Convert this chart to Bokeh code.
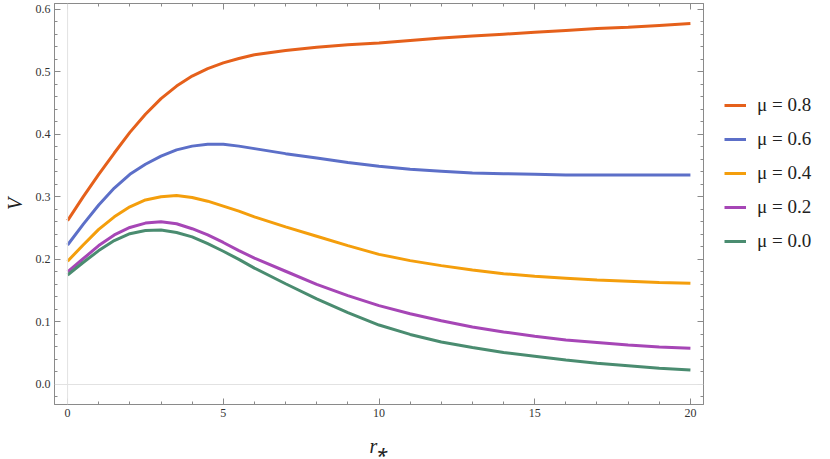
from bokeh.plotting import figure
from bokeh.layouts import row
from bokeh.models import (LinearAxis, FixedTicker, Legend, LegendItem, Span,
                          CustomJSTickFormatter, Range1d)
from bokeh.embed import file_html
from bokeh.resources import INLINE

# ---------------- data ----------------
r_star = [0, 0.5, 1, 1.5, 2, 2.5, 3, 3.5, 4, 4.5, 5, 5.5, 6, 7, 8, 9, 10,
          11, 12, 13, 14, 15, 16, 17, 18, 19, 20]

V_mu08 = [0.262, 0.300, 0.336, 0.370, 0.403, 0.432, 0.457, 0.477, 0.493, 0.505,
          0.514, 0.521, 0.527, 0.534, 0.539, 0.543, 0.546, 0.550, 0.554, 0.557,
          0.560, 0.563, 0.566, 0.569, 0.571, 0.574, 0.577]
V_mu06 = [0.223, 0.256, 0.287, 0.314, 0.336, 0.352, 0.365, 0.375, 0.381, 0.384,
          0.384, 0.381, 0.377, 0.369, 0.362, 0.355, 0.349, 0.344, 0.341, 0.338,
          0.337, 0.336, 0.335, 0.335, 0.335, 0.335, 0.335]
V_mu04 = [0.197, 0.223, 0.248, 0.268, 0.284, 0.295, 0.300, 0.302, 0.299, 0.293,
          0.285, 0.277, 0.268, 0.252, 0.237, 0.222, 0.208, 0.198, 0.190, 0.183,
          0.177, 0.173, 0.170, 0.167, 0.165, 0.163, 0.162]
V_mu02 = [0.180, 0.201, 0.222, 0.239, 0.251, 0.258, 0.260, 0.257, 0.249, 0.239,
          0.227, 0.214, 0.202, 0.181, 0.160, 0.142, 0.126, 0.113, 0.102, 0.092,
          0.084, 0.077, 0.071, 0.067, 0.063, 0.060, 0.058]
V_mu00 = [0.175, 0.195, 0.214, 0.230, 0.241, 0.246, 0.247, 0.243, 0.236, 0.225,
          0.213, 0.200, 0.186, 0.161, 0.137, 0.115, 0.095, 0.080, 0.068, 0.059,
          0.051, 0.045, 0.039, 0.034, 0.030, 0.026, 0.023]

series_labels = ["μ = 0.8", "μ = 0.6", "μ = 0.4", "μ = 0.2", "μ = 0.0"]
series_values = [V_mu08, V_mu06, V_mu04, V_mu02, V_mu00]
series_colors = ["#E5601B", "#5C6FC8", "#F49E0C", "#A646B6", "#4A8C70"]

x_major = [0, 5, 10, 15, 20]
x_minor = [i for i in range(0, 21)]
y_major = [0.0, 0.1, 0.2, 0.3, 0.4, 0.5, 0.6]
y_minor = [round(-0.02 + 0.02 * i, 2) for i in range(0, 32)]

FONT = "Liberation Serif"
FRAME = "#8a8a8a"
LABEL = "#333333"

p = figure(width=708, height=459, output_backend="svg", toolbar_location=None,
           x_range=Range1d(-0.42, 20.42), y_range=Range1d(-0.032, 0.609),
           x_axis_label="r⁎", y_axis_label="V",
           min_border_left=53, min_border_right=5, min_border_top=3,
           min_border_bottom=54)
p.outline_line_color = FRAME
p.grid.visible = False

for vals, col in zip(series_values, series_colors):
    p.line(r_star, vals, line_color=col, line_width=3)

# origin axes (light gray)
p.add_layout(Span(location=0, dimension="width", line_color="#e2e2e2", line_width=1))
p.add_layout(Span(location=0, dimension="height", line_color="#e2e2e2", line_width=1))

def style_axis(ax, ticker, show_labels):
    ax.ticker = ticker
    ax.axis_line_color = FRAME
    ax.major_tick_line_color = FRAME
    ax.minor_tick_line_color = FRAME
    ax.major_tick_in = 6
    ax.major_tick_out = 0
    ax.minor_tick_in = 3
    ax.minor_tick_out = 0
    if show_labels:
        ax.major_label_text_font = FONT
        ax.major_label_text_font_size = "12px"
        ax.major_label_text_color = LABEL
        ax.major_label_standoff = 4
        ax.axis_label_text_font = FONT
        ax.axis_label_text_font_style = "italic"
        ax.axis_label_text_font_size = "20px"
        ax.axis_label_text_color = "#222222"
    else:
        ax.formatter = CustomJSTickFormatter(code="return '';")
        ax.major_label_standoff = 0

style_axis(p.xaxis[0], FixedTicker(ticks=x_major, minor_ticks=x_minor), True)
p.xaxis[0].axis_label_standoff = 15
style_axis(p.yaxis[0], FixedTicker(ticks=y_major, minor_ticks=y_minor), True)
p.yaxis[0].formatter = CustomJSTickFormatter(code="return tick.toFixed(1);")
p.yaxis[0].axis_label_standoff = 7

top = LinearAxis()
style_axis(top, FixedTicker(ticks=x_major, minor_ticks=x_minor), False)
p.add_layout(top, "above")
right = LinearAxis()
style_axis(right, FixedTicker(ticks=y_major, minor_ticks=y_minor), False)
p.add_layout(right, "right")

# ---------------- legend panel ----------------
# Same series drawn in a side panel whose ranges keep them out of view;
# only their legend swatches are shown.
q = figure(width=122, height=459, output_backend="svg", toolbar_location=None,
           min_border=0, outline_line_color=None,
           x_range=Range1d(100, 101), y_range=Range1d(100, 101))
q.axis.visible = False
q.grid.visible = False
items = []
for lab, vals, col in zip(series_labels, series_values, series_colors):
    rr = q.line(r_star, vals, line_color=col, line_width=3)
    items.append(LegendItem(label=lab, renderers=[rr]))

legend = Legend(items=items, location=(16, 152), padding=0, margin=0,
                glyph_width=22, glyph_height=22, label_height=22,
                label_standoff=11, spacing=12,
                label_text_font=FONT, label_text_font_size="19px",
                label_text_color="#222222",
                background_fill_alpha=0, border_line_alpha=0)
q.add_layout(legend)

layout = row(p, q, spacing=0)
open("out.html", "w").write(file_html(layout, INLINE))
